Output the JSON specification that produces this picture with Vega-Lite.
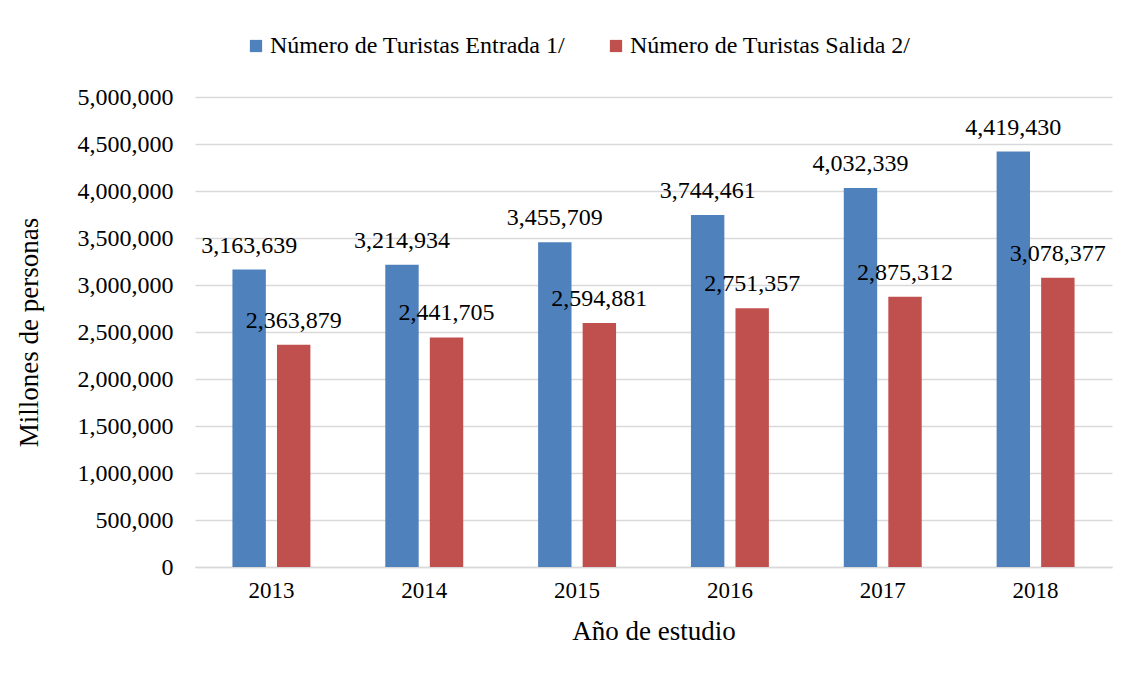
{
  "$schema": "https://vega.github.io/schema/vega-lite/v6.json",
  "width": 917,
  "height": 470,
  "autosize": {"type": "none"},
  "padding": {"left": 195, "top": 97, "right": 21, "bottom": 106},
  "background": "white",
  "data": {
    "values": [
      {"anio": "2013", "serie": "Número de Turistas Entrada 1/", "valor": 3163639},
      {"anio": "2013", "serie": "Número de Turistas Salida 2/", "valor": 2363879},
      {"anio": "2014", "serie": "Número de Turistas Entrada 1/", "valor": 3214934},
      {"anio": "2014", "serie": "Número de Turistas Salida 2/", "valor": 2441705},
      {"anio": "2015", "serie": "Número de Turistas Entrada 1/", "valor": 3455709},
      {"anio": "2015", "serie": "Número de Turistas Salida 2/", "valor": 2594881},
      {"anio": "2016", "serie": "Número de Turistas Entrada 1/", "valor": 3744461},
      {"anio": "2016", "serie": "Número de Turistas Salida 2/", "valor": 2751357},
      {"anio": "2017", "serie": "Número de Turistas Entrada 1/", "valor": 4032339},
      {"anio": "2017", "serie": "Número de Turistas Salida 2/", "valor": 2875312},
      {"anio": "2018", "serie": "Número de Turistas Entrada 1/", "valor": 4419430},
      {"anio": "2018", "serie": "Número de Turistas Salida 2/", "valor": 3078377}
    ]
  },
  "encoding": {
    "x": {
      "field": "anio", "type": "nominal",
      "scale": {"paddingInner": 0.49, "paddingOuter": 0.245},
      "axis": {
        "title": "Año de estudio", "labelAngle": 0, "ticks": false,
        "domainColor": "#D9D9D9", "domainWidth": 1.5,
        "labelPadding": 12, "titlePadding": 16,
        "labelFont": "Liberation Serif", "labelFontSize": 23, "labelColor": "#000000",
        "titleFont": "Liberation Serif", "titleFontSize": 27, "titleFontWeight": "normal", "titleColor": "#000000"
      }
    },
    "xOffset": {"field": "serie", "type": "nominal", "scale": {"paddingInner": 0.25}},
    "y": {
      "field": "valor", "type": "quantitative",
      "scale": {"domain": [0, 5000000]},
      "axis": {
        "title": "Millones de personas",
        "values": [0,500000,1000000,1500000,2000000,2500000,3000000,3500000,4000000,4500000,5000000],
        "format": ",d", "domain": false, "ticks": false, "labelOverlap": false,
        "gridColor": "#D9D9D9", "gridWidth": 1.5,
        "labelPadding": 22,
        "labelFont": "Liberation Serif", "labelFontSize": 24, "labelColor": "#000000",
        "titleFont": "Liberation Serif", "titleFontSize": 27, "titleFontWeight": "normal", "titleColor": "#000000",
        "titleX": -152
      }
    },
    "color": {
      "field": "serie", "type": "nominal",
      "scale": {"range": ["#4F81BD", "#C0504D"]},
      "legend": {
        "title": null, "orient": "none", "direction": "horizontal",
        "legendX": 49, "legendY": -63,
        "symbolType": "square", "symbolSize": 150, "symbolStrokeWidth": 0,
        "labelFont": "Liberation Serif", "labelFontSize": 24, "labelColor": "#000000",
        "labelOffset": 2, "columnPadding": 38, "labelLimit": 400
      }
    }
  },
  "layer": [
    {"mark": {"type": "bar"}},
    {
      "mark": {"type": "text", "baseline": "alphabetic", "dy": -17, "font": "Liberation Serif", "fontSize": 24, "color": "#000000"},
      "encoding": {"text": {"field": "valor", "type": "quantitative", "format": ",d"}, "color": {"value": "#000000"}}
    }
  ],
  "config": {"view": {"stroke": null}}
}
